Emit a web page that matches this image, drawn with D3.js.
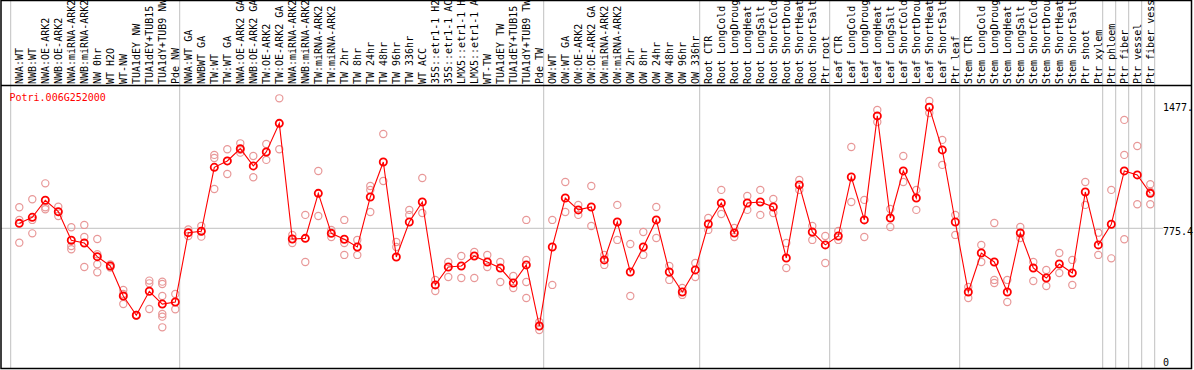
<!DOCTYPE html>
<html><head><meta charset="utf-8">
<script src="https://cdn.jsdelivr.net/npm/d3@7"></script>
<style>body{margin:0;background:#fff}svg{display:block}text{font-family:"DejaVu Sans Mono",monospace;font-size:10px}</style>
</head><body><svg id="c" width="1194" height="370"></svg>
<script>
const title = "Potri.006G252000";
const samples = ["NWA:WT","NWB:WT","NWA:OE-ARK2","NWB:OE-ARK2","NWA:miRNA-ARK2","NWB:miRNA-ARK2","NW 0hr","WT H2O","WT-NW","TUA1dEY NW","TUA1dEY+TUB15 NW","TUA1dY+TUB9 NW","Pde NW",
"NWA:WT GA","NWBWT GA","TW:WT","TW:WT GA","NWA:OE-ARK2 GA","NWB:OE-ARK2 GA","TW:OE-ARK2","TW:OE-ARK2 GA","NWA:miRNA-ARK2 GA","NWB:miRNA-ARK2 GA","TW:miRNA-ARK2","TW:miRNA-ARK2 GA","TW 2hr","TW 8hr","TW 24hr","TW 48hr","TW 96hr","TW 336hr","WT ACC","35S::etr1-1 H2O","35S::etr1-1 ACC","LMX5::etr1-1 H2O","LMX5::etr1-1 ACC","WT-TW","TUA1dEY TW","TUA1dEY+TUB15 TW","TUA1dY+TUB9 TW","Pde TW",
"OW:WT","OW:WT GA","OW:OE-ARK2","OW:OE-ARK2 GA","OW:miRNA-ARK2","OW:miRNA-ARK2 GA","OW 2hr","OW 8hr","OW 24hr","OW 48hr","OW 96hr","OW 336hr",
"Root CTR","Root LongCold","Root LongDrought","Root LongHeat","Root LongSalt","Root ShortCold","Root ShortDrought","Root ShortHeat","Root ShortSalt","Ptr root",
"Leaf CTR","Leaf LongCold","Leaf LongDrought","Leaf LongHeat","Leaf LongSalt","Leaf ShortCold","Leaf ShortDrought","Leaf ShortHeat","Leaf ShortSalt","Ptr leaf",
"Stem CTR","Stem LongCold","Stem LongDrought","Stem LongHeat","Stem LongSalt","Stem ShortCold","Stem ShortDrought","Stem ShortHeat","Stem ShortSalt","Ptr shoot","Ptr xylem","Ptr phloem","Ptr fiber","Ptr vessel","Ptr fiber vessel"];
const means = [804,839,938,872,706,690,611,557,383,271,410,336,348,
750,758,1129,1166,1237,1137,1218,1384,713,717,978,746,712,667,957,1160,609,812,928,447,551,557,615,580,545,458,563,209,
667,951,882,899,592,812,522,667,824,522,406,534,
800,922,748,922,928,899,603,1027,754,679,
731,1073,824,1427,835,1108,951,1477,1230,812,
406,632,580,406,748,545,487,568,516,986,679,799,1108,1085,978];
const replicates = [[897,824,692],[944,824,746],[1036,897,886],[901,870,847],[781,673,654],[795,725,551],[713,625,567,520],[566,548],[418,394,336],[273,270],[472,456,307],[466,452,383,278,263,201],[394,306],
[769,751,731],[789,758,727],[1201,1183,1003],[1234,1166,1090],[1268,1230,1214],[1195,1071],[1264,1172],[1529,1234],[737,713,690],[853,580],[1108,847],[766,725],[824,690,621],[708,621],[1021,998,870],[1322,1050],[696,667],[882,853],[1067,864],[476,412],[580,493],[615,487],[638,487],[621,551],[580,464],[499,429],[824,592,464,371],[232,186],
[824,447],[1044,870],[911,853],[1021,789],[621,563],[911,708],[684,383],[754,621],[899,719],[557,476],[429,389],[574,493],
[835,766],[998,858],[777,725],[963,882],[998,853],[945,864],[690,545],[1056,998],[789,708],[731,574],
[760,708],[1247,928],[940,725],[1462,1392],[887,783],[1195,1044],[998,882],[1514,1444],[1288,1143],[853,737],
[435,371],[679,580],[806,476,458],[476,348],[783,719],[580,470],[534,441],[632,516],[592,447],[1044,911],[750,621],[998,601],[1404,1201,712],[1253,915],[1031,988,915]];
const groupBreaks = [0,13,41,53,63,73,84,85,86,87,88];
const yMax = 1477, yMid = 775.4;
const yTickLabels = ["1477.","775.4","0"];

const svg = d3.select("#c");
const x = d3.scaleBand().domain(d3.range(samples.length + 1)).range([10.7, 10.7 + 13*(samples.length+1)]).paddingInner(0).paddingOuter(0);
const cx = i => x(i) + 8.6;
const y = d3.scaleLinear().domain([0, yMax]).range([362, 107.3]);

// gray grid
svg.selectAll("line.v").data(groupBreaks).join("line")
  .attr("x1", d => x(d)).attr("x2", d => x(d)).attr("y1", 0).attr("y2", 368)
  .attr("stroke", "#c0c0c0").attr("stroke-width", 1);
svg.append("line").attr("x1", 1).attr("x2", 1163).attr("y1", y(yMid)).attr("y2", y(yMid))
  .attr("stroke", "#c0c0c0").attr("stroke-width", 1);

// header labels
svg.selectAll("text.lab").data(samples).join("text")
  .attr("transform", (d,i) => `translate(${cx(i)},84) rotate(-90)`)
  .attr("dy", "0.36em").attr("fill", "#000").text(d => d);

// frame
svg.append("rect").attr("x", 1).attr("y", 0.5).attr("width", 1190.5).attr("height", 368)
  .attr("fill", "none").attr("stroke", "#000").attr("stroke-width", 1.5);
svg.append("line").attr("x1", 1).attr("x2", 1192).attr("y1", 85.5).attr("y2", 85.5)
  .attr("stroke", "#000").attr("stroke-width", 1.5);

// title
svg.append("text").attr("x", 9.5).attr("y", 100.5).attr("fill", "#f00").text(title);

// y labels
const tickVals = [yMax, yMid, 0];
svg.selectAll("text.yt").data(tickVals).join("text")
  .attr("x", 1163).attr("y", (d,i) => y(d) + (i === 1 ? 6.8 : 3.6))
  .attr("fill", "#000").text((d,i) => yTickLabels[i]);

// replicates
const repPts = [];
replicates.forEach((arr, i) => arr.forEach(v => repPts.push({i, v})));
svg.selectAll("circle.rep").data(repPts).join("circle")
  .attr("cx", d => cx(d.i)).attr("cy", d => y(d.v)).attr("r", 3.6)
  .attr("fill", "none").attr("stroke", "#e89898").attr("stroke-width", 1.2);

// mean line
svg.append("path").datum(means)
  .attr("d", d3.line().x((d,i) => cx(i)).y(d => y(d)))
  .attr("fill", "none").attr("stroke", "#f00").attr("stroke-width", 1.1);
svg.selectAll("circle.mean").data(means).join("circle")
  .attr("cx", (d,i) => cx(i)).attr("cy", d => y(d)).attr("r", 3.6)
  .attr("fill", "none").attr("stroke", "#f00").attr("stroke-width", 1.8);
</script></body></html>
